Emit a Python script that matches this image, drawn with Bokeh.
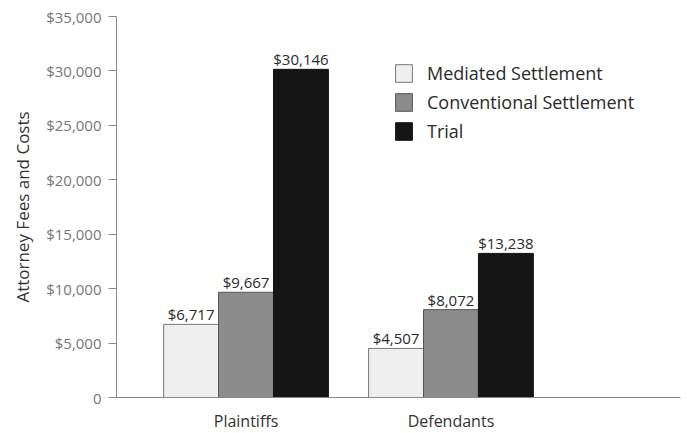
from bokeh.plotting import figure
from bokeh.models import ColumnDataSource, NumeralTickFormatter, FixedTicker, Range1d, Legend, LegendItem, LabelSet
from bokeh.core.properties import value
from bokeh.embed import file_html
from bokeh.resources import INLINE

groups = ["Plaintiffs", "Defendants"]
series = ["Mediated Settlement", "Conventional Settlement", "Trial"]
mediated = [6717, 4507]
conventional = [9667, 8072]
trial = [30146, 13238]
colors = ["#efefef", "#8c8c8c", "#151515"]
line_colors = ["#777777", "#555555", "#151515"]

FONT = "Open Sans"

p = figure(width=687, height=433, output_backend="svg", toolbar_location=None,
           frame_width=564, frame_height=381,
           x_range=Range1d(0.368, 3.12), y_range=Range1d(0, 35000),
           min_border_left=116, min_border_right=7, min_border_top=16, min_border_bottom=36)
p.outline_line_color = None
p.xgrid.visible = False
p.ygrid.visible = False
p.background_fill_color = "white"
p.border_fill_color = "white"

bw = 0.268
offsets = [-bw, 0.0, bw]
xs = [i + 1 for i in range(len(groups))]
items = []
for k, vals in enumerate([mediated, conventional, trial]):
    src = ColumnDataSource(dict(x=[x + offsets[k] for x in xs], top=vals,
                                lab=["${:,}".format(v) for v in vals]))
    r = p.vbar(x="x", top="top", width=bw, source=src, fill_color=colors[k],
               line_color=line_colors[k], line_width=1)
    items.append(LegendItem(label=series[k], renderers=[r]))
    lbl = LabelSet(x="x", y="top", text="lab", source=src, text_align="center",
                   text_baseline="bottom", y_offset=0, text_font=value(FONT),
                   text_font_size="15px", text_color="#2a2a2a")
    p.add_layout(lbl)

legend = Legend(items=items, location=(277, 254), margin=0, padding=0,
                border_line_color=None, background_fill_alpha=0,
                glyph_width=21, glyph_height=22, label_height=22, spacing=5,
                label_text_font=FONT, label_text_font_size="18px",
                label_text_color="#2a2a2a", label_standoff=13)
p.add_layout(legend, "center")

p.yaxis.ticker = FixedTicker(ticks=[0, 5000, 10000, 15000, 20000, 25000, 30000, 35000])
p.yaxis.formatter = NumeralTickFormatter(format="$0,0")
p.yaxis.major_label_overrides = {0: "0"}
p.yaxis.major_tick_out = 8
p.yaxis.major_tick_in = 0
p.yaxis.minor_tick_line_color = None
p.yaxis.axis_line_color = "#888888"
p.yaxis.major_tick_line_color = "#888888"
p.yaxis.major_label_text_font = FONT
p.yaxis.major_label_text_font_size = "15px"
p.yaxis.major_label_text_color = "#777777"
p.yaxis.major_label_standoff = 7
p.yaxis.axis_label = "Attorney Fees and Costs"
p.yaxis.axis_label_text_font = FONT
p.yaxis.axis_label_text_font_style = "normal"
p.yaxis.axis_label_text_font_size = "17px"
p.yaxis.axis_label_text_color = "#333333"
p.yaxis.axis_label_standoff = 9

p.xaxis.ticker = FixedTicker(ticks=xs)
p.xaxis.major_label_overrides = {x: g for x, g in zip(xs, groups)}
p.xaxis.major_tick_out = 0
p.xaxis.major_tick_in = 0
p.xaxis.major_tick_line_color = None
p.xaxis.minor_tick_line_color = None
p.xaxis.axis_line_color = "#888888"
p.xaxis.major_label_text_font = FONT
p.xaxis.major_label_text_font_size = "16px"
p.xaxis.major_label_text_color = "#333333"
p.xaxis.major_label_standoff = 12

open("out.html", "w").write(file_html(p, INLINE))
